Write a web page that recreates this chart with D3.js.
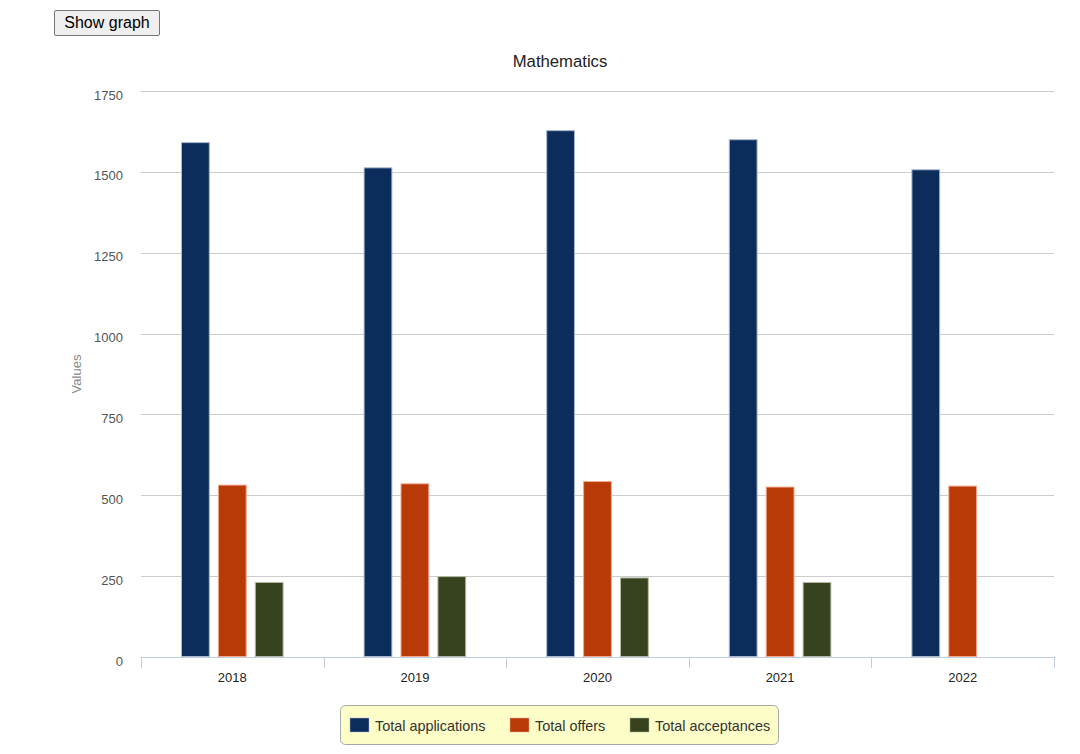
<!DOCTYPE html>
<html>
<head>
<meta charset="utf-8">
<script src="https://cdn.jsdelivr.net/npm/d3@7"></script>
<style>
  body { margin: 0; background: #fff; font-family: "Liberation Sans", Arial, sans-serif; }
  #btn { position: absolute; left: 54px; top: 10px; width: 106px; height: 26px; font: 16px "Liberation Sans", Arial, sans-serif;
         background: #efefef; border: 1px solid #767676; border-radius: 2px; padding: 0; color: #000; }
  svg { position: absolute; left: 0; top: 0; }
</style>
</head>
<body>
<button id="btn">Show graph</button>
<svg id="chart" width="1080" height="754"></svg>
<script>
const categories = ["2018", "2019", "2020", "2021", "2022"];
const seriesNames = ["Total applications", "Total offers", "Total acceptances"];
const applications = [1592, 1514, 1629, 1601, 1508];
const offers = [533, 537, 544, 527, 530];
const acceptances = [232, 250, 246, 232, null];
const yTicks = [0, 250, 500, 750, 1000, 1250, 1500, 1750];
const colors = ["#0c2d5c", "#b93a06", "#37421e"];
const strokes = ["#a9b9d2", "#f0a98c", "#b4bba4"];

(function () {
const series = [applications, offers, acceptances];
const svg = d3.select("#chart");
const pLeft = 141, pRight = 1054, pTop = 91, pBottom = 657;

const x = d3.scaleBand().domain(categories).range([pLeft, pRight]).paddingInner(0).paddingOuter(0);
const xs = d3.scaleBand().domain(seriesNames).range([40, x.bandwidth() - 40]).paddingInner(0.22).paddingOuter(0);
const y = d3.scaleLinear().domain([0, 1750]).range([pBottom, pTop]);

// gridlines
svg.append("g").selectAll("line").data(yTicks).join("line")
  .attr("x1", pLeft).attr("x2", pRight)
  .attr("y1", d => Math.round(y(d)) + 0.5).attr("y2", d => Math.round(y(d)) + 0.5)
  .attr("stroke", "#cccccc").attr("stroke-width", 1);

// y labels
svg.append("g").selectAll("text").data(yTicks).join("text")
  .attr("x", 123).attr("y", d => y(d) + 8.5)
  .attr("text-anchor", "end").attr("font-size", 13).attr("fill", "#555")
  .text(d => d);

// bars
const groups = svg.append("g").selectAll("g").data(categories).join("g")
  .attr("transform", d => `translate(${x(d)},0)`);
groups.selectAll("rect").data((c, i) => seriesNames.map((s, j) => ({s, j, v: series[j][i]})).filter(d => d.v != null))
  .join("rect")
  .attr("x", d => xs(d.s) + 0.5)
  .attr("width", xs.bandwidth() - 1)
  .attr("y", d => y(d.v) + 0.5)
  .attr("height", d => y(0) - y(d.v) - 1)
  .attr("fill", d => colors[d.j])
  .attr("stroke", d => strokes[d.j]).attr("stroke-width", 1);

// x axis
const xAxis = svg.append("g");
xAxis.append("line").attr("x1", pLeft).attr("x2", pRight).attr("y1", pBottom + 0.5).attr("y2", pBottom + 0.5)
  .attr("stroke", "#c0cde0");
const bounds = categories.map(c => x(c)).concat([pRight]);
xAxis.selectAll("line.t").data(bounds).join("line").attr("class", "t")
  .attr("x1", d => Math.round(d) + 0.5).attr("x2", d => Math.round(d) + 0.5)
  .attr("y1", pBottom).attr("y2", pBottom + 11).attr("stroke", "#c0cde0");
xAxis.selectAll("text").data(categories).join("text")
  .attr("x", d => x(d) + x.bandwidth() / 2).attr("y", 682)
  .attr("text-anchor", "middle").attr("font-size", 13).attr("fill", "#222")
  .text(d => d);

// y title
svg.append("text").attr("transform", "translate(81,374) rotate(-90)")
  .attr("text-anchor", "middle").attr("font-size", 13).attr("fill", "#888").text("Values");

// title
svg.append("text").attr("x", 560).attr("y", 67).attr("text-anchor", "middle")
  .attr("font-size", 16.7).attr("fill", "#222").text("Mathematics");

// legend
const lg = svg.append("g");
lg.append("rect").attr("x", 340.5).attr("y", 705.5).attr("width", 438).attr("height", 39)
  .attr("rx", 5).attr("fill", "#fdfdc8").attr("stroke", "#a8a8a8");
const legX = [350, 510, 630];
const items = lg.selectAll("g").data(seriesNames).join("g")
  .attr("transform", (d, i) => `translate(${legX[i]},718)`);
items.append("rect").attr("width", 19).attr("height", 14).attr("fill", (d, i) => colors[i])
  .attr("stroke", (d, i) => strokes[i]).attr("stroke-width", 0.5);
items.append("text").attr("x", 25).attr("y", 12.5).attr("font-size", 14.4).attr("fill", "#333").text(d => d);
})();
</script>
</body>
</html>
